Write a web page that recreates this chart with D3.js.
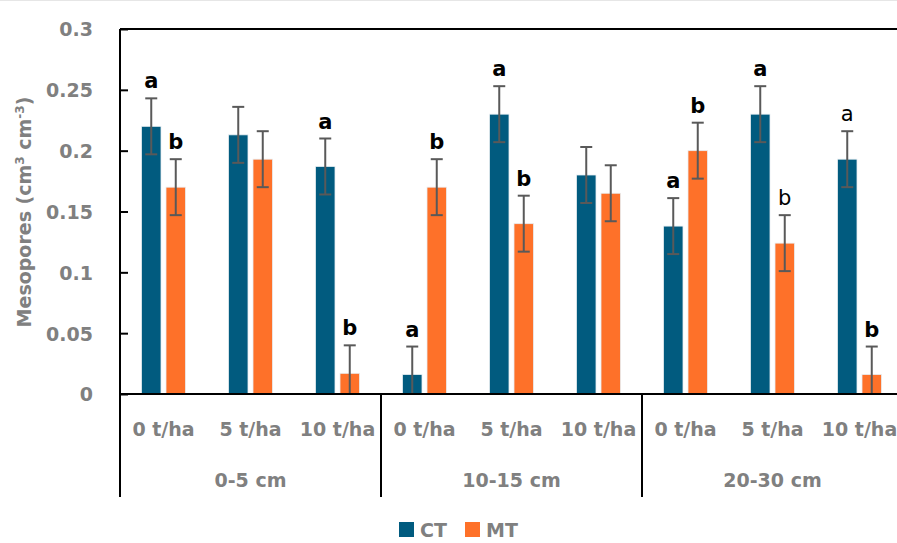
<!DOCTYPE html>
<html>
<head>
<meta charset="utf-8">
<script src="https://cdn.jsdelivr.net/npm/d3@7"></script>
<style>
  body { margin: 0; background: #fff; }
  svg text { font-family: "DejaVu Sans", Verdana, sans-serif; }
</style>
</head>
<body>
<div id="chart"></div>
<script>
// data
const depths = ["0-5 cm", "10-15 cm", "20-30 cm"];
const rates = ["0 t/ha", "5 t/ha", "10 t/ha"];
const series = ["CT", "MT"];
const ctValues = [0.220, 0.213, 0.187, 0.016, 0.230, 0.180, 0.138, 0.230, 0.193];
const mtValues = [0.170, 0.193, 0.017, 0.170, 0.140, 0.165, 0.200, 0.124, 0.016];
const ctErrors = [0.023, 0.023, 0.023, 0.023, 0.023, 0.023, 0.023, 0.023, 0.023];
const mtErrors = [0.023, 0.023, 0.023, 0.023, 0.023, 0.023, 0.023, 0.023, 0.023];
const ctLetters = ["a", "", "a", "a", "a", "", "a", "a", "a"];
const mtLetters = ["b", "", "b", "b", "b", "", "b", "b", "b"];
const ctBold = [true, true, true, true, true, true, true, true, false];
const mtBold = [true, true, true, true, true, true, true, false, true];
const yTicks = [0, 0.05, 0.1, 0.15, 0.2, 0.25, 0.3];

const colors = { CT: "#015b7f", MT: "#fe7129" };
const grey = "#808080";

const width = 897, height = 543;
const margin = { top: 29, left: 120, bottom: 394 };

const svg = d3.select("#chart").append("svg")
  .attr("width", width)
  .attr("height", height);

// faint frame line along the top
svg.append("line")
  .attr("x1", 0).attr("x2", width)
  .attr("y1", 0.5).attr("y2", 0.5)
  .attr("stroke", "#e6e6e6");

// categories = depth x rate
const cats = [];
depths.forEach(d => rates.forEach(r => cats.push(d + "|" + r)));

const x = d3.scaleBand()
  .domain(cats)
  .range([margin.left, margin.left + 87 * 9]);

const y = d3.scaleLinear()
  .domain([0, 0.3])
  .range([margin.bottom, margin.top]);

const bw = x.bandwidth();
const x1 = d3.scaleBand()
  .domain(series)
  .range([bw / 2 - 22, bw / 2 + 22])
  .paddingInner(0.204);

const rows = cats.map((c, i) => ({
  cat: c,
  values: [
    { s: "CT", v: ctValues[i], e: ctErrors[i], l: ctLetters[i], b: ctBold[i] },
    { s: "MT", v: mtValues[i], e: mtErrors[i], l: mtLetters[i], b: mtBold[i] }
  ]
}));

// y axis
const yAxis = svg.append("g")
  .attr("transform", `translate(${margin.left},0)`)
  .call(d3.axisRight(y).tickValues(yTicks).tickSize(8).tickFormat(d3.format("")));
yAxis.select(".domain").remove();
yAxis.selectAll(".tick line").attr("stroke", "#000").attr("stroke-width", 2);
yAxis.selectAll(".tick text")
  .attr("x", -27)
  .attr("dy", "0.36em")
  .attr("text-anchor", "end")
  .attr("fill", grey)
  .attr("font-size", 19)
  .attr("font-weight", "bold");

svg.append("text")
  .attr("transform", `translate(31,212) rotate(-90)`)
  .attr("text-anchor", "middle")
  .attr("fill", grey)
  .attr("font-size", 19)
  .attr("font-weight", "bold")
  .call(t => {
    t.append("tspan").text("Mesopores (cm");
    t.append("tspan").attr("font-size", 12).attr("dy", -7).text("3");
    t.append("tspan").attr("dy", 7).text(" cm");
    t.append("tspan").attr("font-size", 12).attr("dy", -7).text("-3");
    t.append("tspan").attr("dy", 7).text(")");
  });

// bars
const groups = svg.append("g").selectAll("g")
  .data(rows)
  .join("g")
  .attr("transform", d => `translate(${x(d.cat)},0)`);

groups.selectAll("rect")
  .data(d => d.values)
  .join("rect")
  .attr("x", d => x1(d.s))
  .attr("y", d => y(d.v))
  .attr("width", x1.bandwidth())
  .attr("height", d => y(0) - y(d.v))
  .attr("fill", d => colors[d.s])
  .attr("stroke", "#e8eef2")
  .attr("stroke-width", 0.8);

// error bars (lower end stops at the axis)
const err = groups.selectAll("g.err")
  .data(d => d.values)
  .join("g")
  .attr("class", "err")
  .attr("stroke", "#595959")
  .attr("stroke-width", 2);
const cx = d => x1(d.s) + x1.bandwidth() / 2;
const lo = d => Math.max(0, d.v - d.e);
err.append("line")
  .attr("x1", cx).attr("x2", cx)
  .attr("y1", d => y(lo(d))).attr("y2", d => y(d.v + d.e));
err.append("line")
  .attr("x1", d => cx(d) - 6).attr("x2", d => cx(d) + 6)
  .attr("y1", d => y(d.v + d.e)).attr("y2", d => y(d.v + d.e));
err.filter(d => d.v - d.e > 0).append("line")
  .attr("x1", d => cx(d) - 6).attr("x2", d => cx(d) + 6)
  .attr("y1", d => y(d.v - d.e)).attr("y2", d => y(d.v - d.e));

// significance letters
groups.selectAll("text.sig")
  .data(d => d.values.filter(v => v.l))
  .join("text")
  .attr("class", "sig")
  .attr("x", cx)
  .attr("y", d => y(d.v + d.e) - 10)
  .attr("text-anchor", "middle")
  .attr("font-size", 21)
  .attr("font-weight", d => d.b ? "bold" : "normal")
  .attr("fill", "#000")
  .text(d => d.l);

// axes lines
const axisG = svg.append("g").attr("stroke", "#000").attr("stroke-width", 2);
axisG.append("line")
  .attr("x1", margin.left).attr("x2", width)
  .attr("y1", margin.top).attr("y2", margin.top);
axisG.append("line")
  .attr("x1", margin.left).attr("x2", width)
  .attr("y1", y(0)).attr("y2", y(0));
axisG.append("line")
  .attr("x1", margin.left).attr("x2", margin.left)
  .attr("y1", margin.top).attr("y2", 497);
depths.slice(1).forEach(dp => {
  const gx = x(dp + "|" + rates[0]);
  axisG.append("line")
    .attr("x1", gx).attr("x2", gx)
    .attr("y1", y(0)).attr("y2", 497);
});

// category labels
svg.append("g").selectAll("text")
  .data(cats)
  .join("text")
  .attr("x", d => x(d) + bw / 2)
  .attr("y", 436)
  .attr("text-anchor", "middle")
  .attr("fill", grey)
  .attr("font-size", 19)
  .attr("font-weight", "bold")
  .text(d => d.split("|")[1]);

svg.append("g").selectAll("text")
  .data(depths)
  .join("text")
  .attr("x", d => x(d + "|" + rates[1]) + bw / 2)
  .attr("y", 487)
  .attr("text-anchor", "middle")
  .attr("fill", grey)
  .attr("font-size", 19)
  .attr("font-weight", "bold")
  .text(d => d);

// legend
const legend = svg.append("g").attr("transform", "translate(399,522)");
const li = legend.selectAll("g")
  .data(series)
  .join("g")
  .attr("transform", (d, i) => `translate(${i * 66},0)`);
li.append("rect")
  .attr("width", 15).attr("height", 15)
  .attr("fill", d => colors[d]);
li.append("text")
  .attr("x", 21).attr("y", 15)
  .attr("fill", grey)
  .attr("font-size", 19)
  .attr("font-weight", "bold")
  .text(d => d);
</script>
</body>
</html>
